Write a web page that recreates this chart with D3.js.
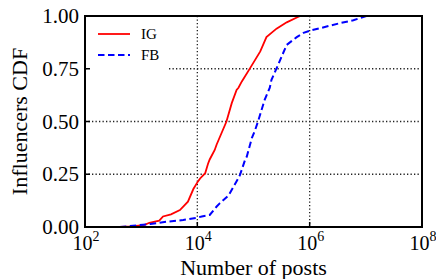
<!DOCTYPE html>
<html>
<head>
<meta charset="utf-8">
<script src="https://cdn.jsdelivr.net/npm/d3@7/dist/d3.min.js"></script>
<style>
  body { margin: 0; background: #fff; }
</style>
</head>
<body>
<div id="chart"></div>
<script>
var width = 436,
    height = 279;

var margin = {top: 16, right: 14, bottom: 52, left: 85};
var serif = "'Liberation Serif', 'Times New Roman', Tinos, 'DejaVu Serif', 'Noto Serif', serif";

// number of posts / cdf
var igPosts = [417, 700, 1150, 1400, 2100, 2450, 3400, 4900, 6800, 8500, 10200, 11200, 13800, 15500, 16600, 20400, 22000, 33000, 41000, 50000, 54000, 62000, 87000, 132000, 170000, 257000, 390000, 617000, 680000];
var igCdf   = [0, 0.003, 0.01, 0.02, 0.03, 0.05, 0.06, 0.08, 0.12, 0.18, 0.215, 0.23, 0.255, 0.30, 0.32, 0.365, 0.39, 0.50, 0.587, 0.65, 0.66, 0.69, 0.753, 0.832, 0.90, 0.94, 0.97, 0.995, 1.0];

var fbPosts = [417, 1450, 2800, 5600, 9800, 12000, 16600, 21900, 25000, 36000, 53700, 57500, 70800, 76000, 93300, 107000, 123000, 158000, 195000, 209000, 275000, 389000, 589000, 776000, 1000000, 2000000, 3470000, 6000000, 10200000];
var fbCdf   = [0, 0.014, 0.025, 0.033, 0.044, 0.05, 0.057, 0.096, 0.112, 0.15, 0.231, 0.247, 0.318, 0.334, 0.421, 0.46, 0.508, 0.603, 0.66, 0.698, 0.769, 0.863, 0.90, 0.92, 0.93, 0.95, 0.966, 0.98, 1.0];

var xTicks = [1e2, 1e4, 1e6, 1e8];
var yTicks = [0, 0.25, 0.5, 0.75, 1.0];
var gridX = [1e4, 1e6];
var gridY = [0.25, 0.5, 0.75];

var series = [
  {name: "IG", posts: igPosts, cdf: igCdf, color: "#ff0000", dash: null, lw: 1.8},
  {name: "FB", posts: fbPosts, cdf: fbCdf, color: "#0000ff", dash: "6.5,3.5", lw: 2}
];

var svg = d3.select("#chart")
  .append("svg")
  .attr("width", width)
  .attr("height", height)
  .attr("font-family", serif);

var w = width - margin.left - margin.right,
    h = height - margin.top - margin.bottom;

var x = d3.scaleLog().domain([1e2, 1e8]).range([0, w]);
var y = d3.scaleLinear().domain([0, 1]).range([h, 0]);

var g = svg.append("g")
  .attr("transform", "translate(" + margin.left + "," + margin.top + ")");

// grid
g.selectAll(".gx").data(gridX).enter().append("line")
  .attr("x1", function(d){ return x(d) }).attr("x2", function(d){ return x(d) })
  .attr("y1", 0).attr("y2", h)
  .attr("stroke", "#222").attr("stroke-width", 1.3).attr("stroke-dasharray", "1.3,2.2");
g.selectAll(".gy").data(gridY).enter().append("line")
  .attr("y1", function(d){ return y(d) }).attr("y2", function(d){ return y(d) })
  .attr("x1", 0).attr("x2", w)
  .attr("stroke", "#222").attr("stroke-width", 1.3).attr("stroke-dasharray", "1.3,2.2");

// curves
var line = d3.line()
  .x(function(d){ return x(d[0]) })
  .y(function(d){ return y(d[1]) });

series.forEach(function(s){
  g.append("path")
    .datum(d3.zip(s.posts, s.cdf))
    .attr("d", line)
    .attr("fill", "none")
    .attr("stroke", s.color)
    .attr("stroke-width", s.lw)
    .attr("stroke-dasharray", s.dash);
});

// legend (white box hides grid)
var leg = g.append("g").attr("transform", "translate(2,2)");
leg.append("rect").attr("width", 82).attr("height", 54).attr("fill", "#fff");
series.forEach(function(s, i){
  var yy = 16 + i * 21;
  leg.append("line")
    .attr("x1", 11).attr("x2", 43).attr("y1", yy).attr("y2", yy)
    .attr("stroke", s.color).attr("stroke-width", s.lw)
    .attr("stroke-dasharray", s.dash);
  leg.append("text")
    .attr("x", 54).attr("y", yy + 5)
    .attr("font-family", serif)
    .style("font-size", "15px")
    .text(s.name);
});

// ticks inward
g.selectAll(".tx").data(xTicks).enter().append("line")
  .attr("x1", function(d){ return x(d) }).attr("x2", function(d){ return x(d) })
  .attr("y1", h).attr("y2", h - 5)
  .attr("stroke", "#000").attr("stroke-width", 1.5);
g.selectAll(".ty").data(yTicks).enter().append("line")
  .attr("y1", function(d){ return y(d) }).attr("y2", function(d){ return y(d) })
  .attr("x1", 0).attr("x2", 5)
  .attr("stroke", "#000").attr("stroke-width", 1.5);

// frame
g.append("rect").attr("width", w).attr("height", h)
  .attr("fill", "none").attr("stroke", "#000").attr("stroke-width", 2);

// tick labels
g.selectAll(".ly").data(yTicks).enter().append("text")
  .attr("x", -6).attr("y", function(d){ return y(d) + 7 })
  .attr("text-anchor", "end")
  .attr("font-family", serif)
  .style("font-size", "21px")
  .text(function(d){ return d3.format(".2f")(d) });

var xl = g.selectAll(".lx").data(xTicks).enter().append("text")
  .attr("x", function(d){ return x(d) + 1 }).attr("y", h + 23)
  .attr("text-anchor", "middle")
  .attr("font-family", serif)
  .style("font-size", "20px");
xl.append("tspan").text("10");
xl.append("tspan").attr("dy", -9).style("font-size", "14px")
  .text(function(d){ return Math.round(Math.log10(d)) });

// axis titles
g.append("text")
  .attr("x", w / 2).attr("y", h + 48)
  .attr("text-anchor", "middle")
  .attr("font-family", serif)
  .style("font-size", "22px")
  .text("Number of posts");

svg.append("text")
  .attr("transform", "translate(27," + (margin.top + h / 2) + ") rotate(-90)")
  .attr("text-anchor", "middle")
  .attr("font-family", serif)
  .style("font-size", "22px")
  .text("Influencers CDF");
</script>
</body>
</html>
